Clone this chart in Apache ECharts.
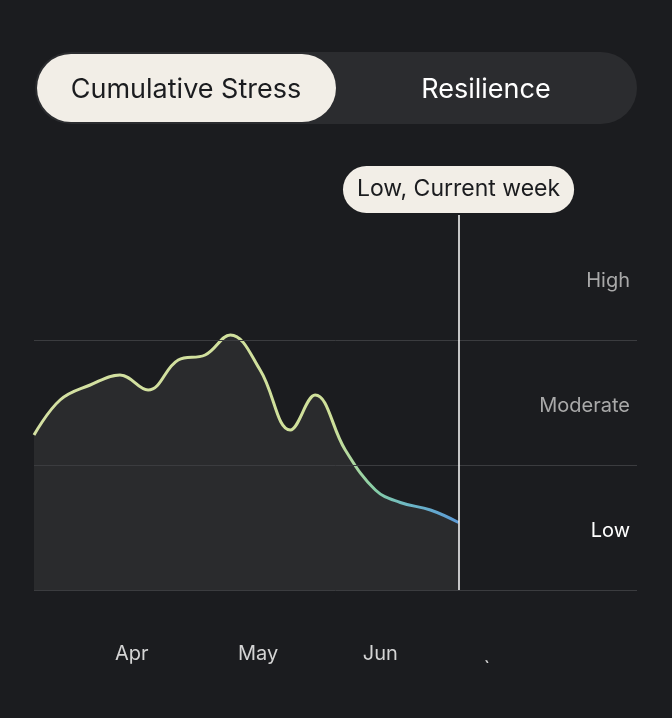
<!DOCTYPE html>
<html><head><meta charset="utf-8">
<script src="https://cdn.jsdelivr.net/npm/echarts@6/dist/echarts.min.js"></script>
<style>html,body{margin:0;background:#1b1c1f}#c{width:672px;height:718px}</style>
</head><body><div id="c"></div>
<script>
// x = days since mid-March, y = stress level (0 low .. 3 high)
const stressDays = [0, 6.4, 13.8, 21.1, 28, 35.4, 42, 48.2, 55.5, 62.9, 69, 76.4, 83.8, 89.9, 97.3, 104.2]
const stressValues = [1.24, 1.52, 1.64, 1.72, 1.6, 1.84, 1.88, 2.04, 1.76, 1.28, 1.56, 1.12, 0.8, 0.7, 0.64, 0.54]
const monthDays = [24, 55, 85, 111]
const monthLabels = ["Apr", "May", "Jun", "ˎ"]
const levelValues = [0.5, 1.5, 2.5]
const levelLabels = ["Low", "Moderate", "High"]
const currentDay = 104.2

const font = "Inter, 'Noto Sans', sans-serif"
const chart = echarts.init(document.getElementById("c"))

chart.setOption({
  backgroundColor: "#1b1c1f",
  animation: false,
  grid: { left: 34, right: 35, top: 215, bottom: 128 },
  xAxis: {
    type: "value", min: 0, max: 148,
    axisLine: { show: false }, axisTick: { show: false }, splitLine: { show: false },
    axisLabel: {
      customValues: monthDays, margin: 54, color: "#d4d4d4", fontSize: 20, fontFamily: font,
      formatter: (v) => monthLabels[monthDays.indexOf(v)] ?? ""
    }
  },
  yAxis: {
    type: "value", min: 0, max: 3, position: "right",
    axisLine: { show: false }, axisTick: { show: false }, splitLine: { show: false },
    axisLabel: {
      customValues: levelValues, inside: true, align: "right", margin: 7,
      fontSize: 20, fontFamily: font, color: "#a9a9a9",
      formatter: (v) => {
        const t = levelLabels[levelValues.indexOf(v)] ?? ""
        return v === 0.5 ? `{cur|${t}}` : `{dim|${t}}`
      },
      rich: {
        cur: { color: "#ffffff", fontSize: 20, fontFamily: font, padding: [6, 0, 0, 0] },
        dim: { color: "#a9a9a9", fontSize: 20, fontFamily: font, padding: [6, 0, 0, 0] }
      }
    }
  },
  graphic: [
    { type: "rect", shape: { x: 35, y: 52, width: 602, height: 72, r: 36 }, style: { fill: "#2b2c2f" } },
    { type: "rect", shape: { x: 37, y: 54, width: 299, height: 68, r: 34 }, style: { fill: "#f2eee7" } },
    { type: "text", x: 186, y: 90, style: { text: "Cumulative Stress", fill: "#1b1c1f", fontSize: 27, fontFamily: font, align: "center", verticalAlign: "middle" } },
    { type: "text", x: 486, y: 90, style: { text: "Resilience", fill: "#ffffff", fontSize: 27, fontFamily: font, align: "center", verticalAlign: "middle" } }
  ],
  series: [{
    type: "line",
    smooth: 0.4,
    symbol: "none",
    data: stressDays.map((d, i) => [d, stressValues[i]]),
    lineStyle: {
      width: 3,
      color: new echarts.graphic.LinearGradient(0, 0, 1, 0, [
        { offset: 0, color: "#d4e0a2" },
        { offset: 0.7, color: "#cfe09a" },
        { offset: 0.8, color: "#86cda6" },
        { offset: 0.88, color: "#6cb6c6" },
        { offset: 1, color: "#5b98d6" }
      ])
    },
    areaStyle: { color: "#2a2b2d", opacity: 1 },
    markLine: {
      silent: true, symbol: "none",
      data: [
        { yAxis: 0, lineStyle: { color: "#3b3c3f", width: 1, type: "solid" }, label: { show: false } },
        { yAxis: 1, lineStyle: { color: "#3b3c3f", width: 1, type: "solid" }, label: { show: false } },
        { yAxis: 2, lineStyle: { color: "#3b3c3f", width: 1, type: "solid" }, label: { show: false } },
        {
          xAxis: currentDay,
          lineStyle: { color: "#ffffff", width: 1.5, type: "solid" },
          label: {
            show: true, position: "end", formatter: "Low, Current week",
            backgroundColor: "#f2eee7", color: "#1b1c1f", fontSize: 23, fontFamily: font,
            padding: [12, 14], borderRadius: 24, distance: 2
          }
        }
      ]
    }
  }]
})
</script></body></html>
